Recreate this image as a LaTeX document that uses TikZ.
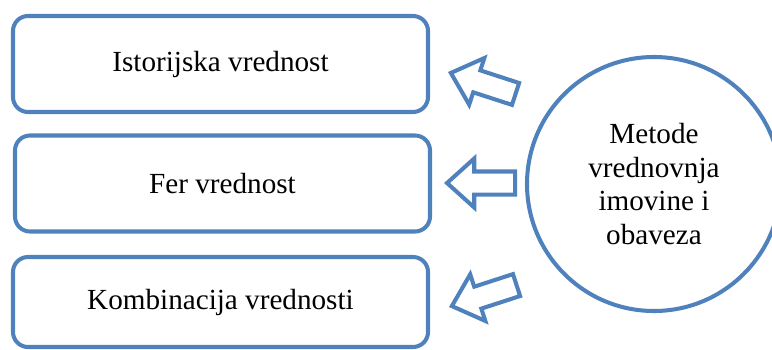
\documentclass[tikz,border=0pt]{standalone}
\usepackage{fontspec}
\setmainfont{Liberation Serif}
\usetikzlibrary{shapes.arrows}
\definecolor{plava}{HTML}{4F81BD}
\begin{document}
\begin{tikzpicture}
    \tikzstyle{metod} = [draw=plava, line width=2.3pt, rounded corners=0.3cm, minimum width=8.3cm, minimum height=1.92cm, font=\fontsize{16.6}{19}\selectfont]
    \tikzstyle{krug} = [draw=plava, line width=2.3pt, circle, minimum size=5.08cm, align=center, font=\fontsize{16.6}{19}\selectfont]
    \tikzstyle{strelica} = [draw=plava, line width=2.3pt, single arrow, anchor=tip, inner sep=0.19cm, single arrow head extend=0.26cm, single arrow tip angle=84, minimum height=1.36cm]
    \useasboundingbox (0, 0) rectangle (15.44, -6.98);
    \node[metod] (v1) at (4.41, -1.28) {Istorijska vrednost};
    \node[metod] (v2) at (4.45, -3.67) {Fer vrednost};
    \node[metod, minimum height=1.8cm] (v3) at (4.41, -6.04) {Kombinacija vrednosti};
    \node[krug] (metode) at (13.08, -3.68) {Metode\\vrednovnja\\imovine i\\obaveza};
    \node[strelica, rotate=162] (s1) at (8.96, -1.44) {};
    \node[strelica, rotate=180] (s2) at (8.88, -3.66) {};
    \node[strelica, rotate=198] (s3) at (8.98, -6.14) {};
\end{tikzpicture}
\end{document}
